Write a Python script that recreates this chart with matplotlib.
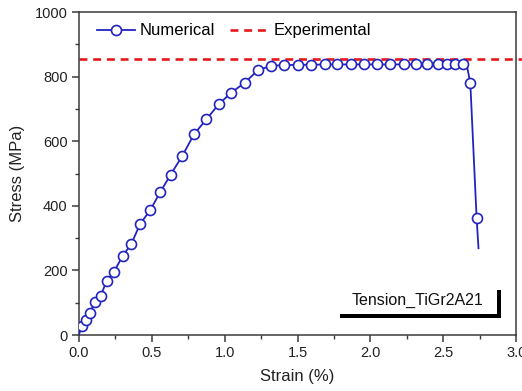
import matplotlib
matplotlib.use("Agg")
import matplotlib.pyplot as plt
from matplotlib.patches import Rectangle
from matplotlib.ticker import MultipleLocator

plt.rcParams['font.family'] = ['Liberation Sans', 'DejaVu Sans']

# numerical stress-strain curve
strain = [0.0, 0.02, 0.048, 0.075, 0.11, 0.15, 0.19, 0.24, 0.30, 0.36, 0.42, 0.49,
          0.56, 0.63, 0.71, 0.79, 0.875, 0.96, 1.046, 1.137, 1.228,
          1.32, 1.41, 1.50, 1.59, 1.685, 1.774, 1.868, 1.959, 2.048, 2.137,
          2.233, 2.315, 2.39, 2.466, 2.527, 2.582, 2.637, 2.66,
          2.685, 2.728, 2.741]
stress = [0, 28, 46, 68, 102, 121, 167, 195, 245, 282, 344, 387,
          444, 497, 555, 622, 668, 715, 751, 781, 820,
          834, 836, 837, 837, 838, 838, 838, 838, 838, 838,
          838, 838, 838, 838, 838, 838, 838, 838,
          779, 363, 269]
# points drawn without a circle marker
unmarked = [0, 38, 41]
experimental_stress = 854

label_text = "Tension_TiGr2A21"

fig = plt.figure(figsize=(5.22, 3.91), dpi=100)
ax = fig.add_axes([0.151, 0.143, 0.838, 0.826])

marked = [i for i in range(len(strain)) if i not in unmarked]
ax.plot(strain, stress, color='#2323c0', lw=1.3, marker='o', markersize=7.2,
        markerfacecolor='white', markeredgecolor='#2323c0', markeredgewidth=1.2,
        markevery=marked, label='Numerical', zorder=3)
ax.axhline(experimental_stress, xmin=0, xmax=1.03, color='#e3191f', lw=1.9,
           ls=(0, (3.0, 2.2)), clip_on=False, label='Experimental', zorder=2)

ax.set_xlim(0, 3.0)
ax.set_ylim(0, 1000)
ax.xaxis.set_major_locator(MultipleLocator(0.5))
ax.xaxis.set_minor_locator(MultipleLocator(0.25))
ax.yaxis.set_major_locator(MultipleLocator(200))
ax.yaxis.set_minor_locator(MultipleLocator(100))
ax.xaxis.set_major_formatter(matplotlib.ticker.FormatStrFormatter('%.1f'))

for s in ax.spines.values():
    s.set_color('#3a3a3a')
    s.set_linewidth(1.1)
ax.tick_params(which='major', direction='out', length=5, width=1.1, color='#3a3a3a',
               labelsize=10.5, labelcolor='#222222', pad=3)
ax.tick_params(which='minor', direction='out', length=3, width=1.0, color='#3a3a3a')

ax.set_xlabel('Strain (%)', fontsize=12, color='#222222')
ax.set_ylabel('Stress (MPa)', fontsize=12, color='#222222')
ax.xaxis.set_label_coords(0.5, -0.105)
ax.yaxis.set_label_coords(-0.124, 0.5)

ax.legend(loc='upper left', bbox_to_anchor=(0.041, 0.965), ncol=2, frameon=False,
          fontsize=12, handlelength=2.3, handletextpad=0.3, columnspacing=0.9,
          borderpad=0, borderaxespad=0)

# label box with shadow
ax.add_patch(Rectangle((0.598, 0.052), 0.366, 0.088, transform=ax.transAxes,
                       facecolor='black', edgecolor='none', zorder=4))
ax.add_patch(Rectangle((0.590, 0.066), 0.366, 0.088, transform=ax.transAxes,
                       facecolor='white', edgecolor='none', zorder=5))
ax.text(0.774, 0.108, label_text, transform=ax.transAxes, fontsize=11.5,
        ha='center', va='center', color='#111111', zorder=6)

fig.savefig('out.png', dpi=100)
